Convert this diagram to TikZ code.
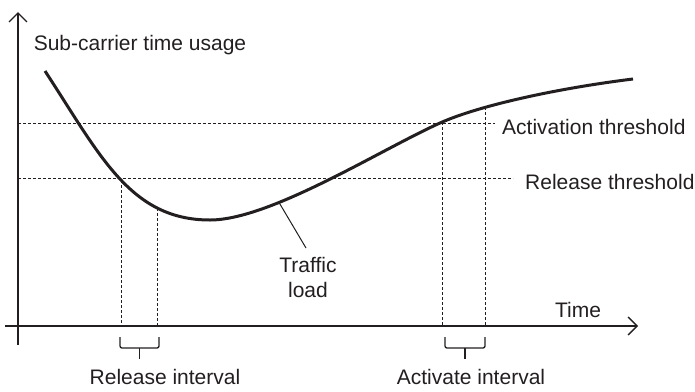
\documentclass[tikz,border=0pt]{standalone}
\usepackage{fontspec}
\setmainfont{Liberation Sans}
\usetikzlibrary{arrows.meta,intersections}
\definecolor{ink}{HTML}{231F20}
\begin{document}
\begin{tikzpicture}[x=1pt,y=-1pt,
  every node/.style={font=\fontsize{21}{24}\selectfont, text=ink, inner sep=0pt},
  axis/.style={draw=ink, line width=1.3pt, -{Straight Barb[length=9pt,width=18pt,line width=1.3pt]}},
  dashln/.style={draw=ink, line width=1pt, dash pattern=on 3pt off 2pt},
  load/.style={draw=ink, line width=3pt},
  bracebox/.style={draw=ink, line width=1.3pt, rounded corners=2pt}]
\useasboundingbox (0,0) rectangle (695,391);
% axes
\coordinate (yb) at (18,345);
\coordinate (yt) at (18,12);
\coordinate (xl) at (5,326);
\coordinate (xr) at (638,326);
\draw[axis] (yb) -- (yt);
\draw[axis] (xl) -- (xr);
% curve
\coordinate (c0) at (45,71);
\coordinate (cm) at (210,220);
\coordinate (ca) at (440,123);
\coordinate (ce) at (633,79);
\path[name path=curve] (c0) .. controls (100,155) and (130,220) .. (cm)
  .. controls (270,220) and (380,150) .. (ca)
  .. controls (480,105) and (560,88) .. (ce);
% vertical guides
\path[name path=v1] (121,0) -- (121,330);
\path[name path=v2] (158,0) -- (158,330);
\path[name path=v3] (442,0) -- (442,330);
\path[name path=v4] (486,0) -- (486,330);
\path[name path=v5] (279,0) -- (279,330);
\path[name intersections={of=curve and v1, by=r1}];
\path[name intersections={of=curve and v2, by=r2}];
\path[name intersections={of=curve and v3, by=a2}];
\path[name intersections={of=curve and v4, by=a3}];
\path[name intersections={of=curve and v5, by=tl}];
\coordinate (actl) at (18,123);
\coordinate (actr) at (495,123);
\coordinate (rell) at (18,178);
\coordinate (relr) at (513,178);
% thresholds
\node[anchor=west] (act) at (502,127) {Activation threshold};
\node[anchor=west] (rel) at (525,182) {Release threshold};
\draw[dashln] (actl) -- (actr);
\draw[dashln] (rell) -- (relr);
% vertical dashed lines
\draw[dashln] (r1) -- (r1 |- xl);
\draw[dashln] (r2) -- (r2 |- xl);
\draw[dashln] (a2) -- (a2 |- xl);
\draw[dashln] (a3) -- (a3 |- xl);
% curve drawn
\draw[load] (c0) .. controls (100,155) and (130,220) .. (cm)
  .. controls (270,220) and (380,150) .. (ca)
  .. controls (480,105) and (560,88) .. (ce);
% labels
\node (yl) at (140,45) {Sub-carrier time usage};
\node (tm) at (578,310) {Time};
\node[align=center, font=\fontsize{21}{25}\selectfont] (tf) at (308,277) {Traffic\\load};
\coordinate (tfp) at (306,248);
\draw[draw=ink, line width=1pt] (tl) -- (tfp);
% braces
\draw[bracebox] (120,337) -- (120,348) -- (159,348) -- (159,337);
\draw[draw=ink, line width=1.3pt] (139.5,348) -- (139.5,359);
\draw[bracebox] (445,337) -- (445,348) -- (485,348) -- (485,337);
\draw[draw=ink, line width=1.3pt] (465,348) -- (465,359);
\node (ri) at (165,377) {Release interval};
\node (ai) at (471,377) {Activate interval};
\end{tikzpicture}
\end{document}
